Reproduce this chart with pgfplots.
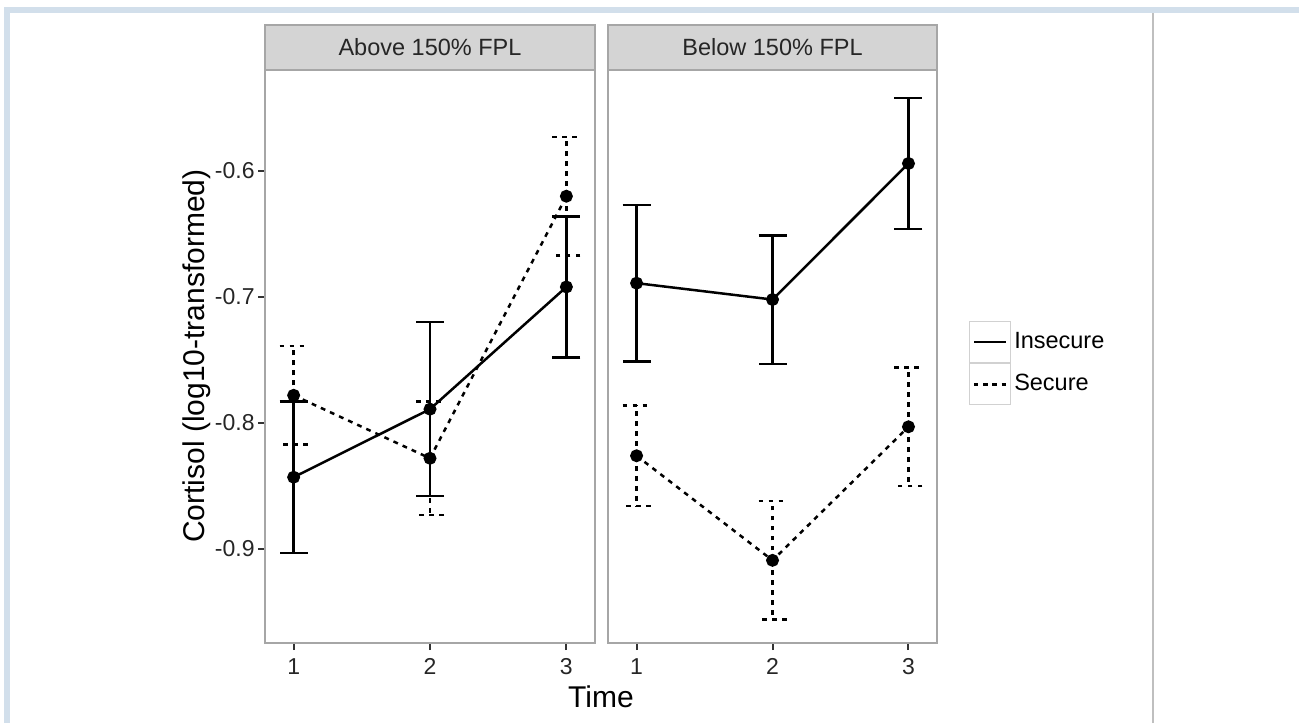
\documentclass[border=0pt]{standalone}
\usepackage{fontspec}
\setmainfont{Liberation Sans}
\usepackage{pgfplots}
\pgfplotsset{compat=1.18}
\usepackage{pgfplotstable}

\definecolor{frameblue}{HTML}{D2DFEB}
\definecolor{stripfill}{HTML}{D4D4D4}
\definecolor{stripborder}{HTML}{A6A6A6}

% Above 150% FPL
\pgfplotstableread{
x y e
1 -0.843 0.060
2 -0.789 0.069
3 -0.692 0.056
}\aboveInsecure
\pgfplotstableread{
x y e
1 -0.778 0.039
2 -0.828 0.045
3 -0.620 0.047
}\aboveSecure
% Below 150% FPL
\pgfplotstableread{
x y e
1 -0.689 0.062
2 -0.702 0.051
3 -0.594 0.052
}\belowInsecure
\pgfplotstableread{
x y e
1 -0.826 0.040
2 -0.909 0.047
3 -0.803 0.047
}\belowSecure

\pgfplotsset{
  panel/.style={
    scale only axis,
    height=286.5bp,
    xmin=0.79, xmax=3.21,
    ymin=-0.9746, ymax=-0.5198,
    xtick={1,2,3},
    tick pos=left,
    axis line style={stripborder, line width=1bp},
    tick align=outside,
    major tick length=3.5bp,
    every tick/.style={black!80, line width=1bp},
    ticklabel style={font=\fontsize{11.5bp}{13bp}\selectfont, text=black!85},
    xticklabel style={inner sep=1bp, yshift=-3bp},
    yticklabel style={inner sep=1.5bp},
    /pgf/number format/assume math mode=true,
    yticklabel style={/pgf/number format/fixed, /pgf/number format/precision=1, /pgf/number format/fixed zerofill},
  },
  insecure/.style={black, line width=1.25bp, solid, mark=*, mark size=2.6bp, mark options={solid},
    error bars/.cd, y dir=both, y explicit,
    error bar style={line width=1.25bp, solid},
    error mark options={rotate=90, black, line width=1.25bp, mark size=7bp, solid},
    /pgfplots/.cd},
  secure/.style={black, line width=1.25bp, dash pattern=on 2.4bp off 2.6bp, mark=*, mark size=2.6bp, mark options={solid},
    error bars/.cd, y dir=both, y explicit,
    error bar style={line width=1.25bp, dash pattern=on 2.4bp off 2.6bp},
    error mark options={rotate=90, black, line width=1.25bp, mark size=7bp, dash pattern=on 2.4bp off 2.6bp},
    /pgfplots/.cd},
}

\begin{document}
\begin{tikzpicture}[x=0.5bp,y=0.5bp]
\path[use as bounding box] (0,0) rectangle (1299,723);
% page frame of the screenshot
\fill[frameblue] (4,710) rectangle (1299,716);
\fill[frameblue] (4,0) rectangle (10,716);
\draw[black!25, line width=0.75bp] (1153,0) -- (1153,710);

% left panel
\begin{axis}[panel, at={(132.5bp,40bp)}, anchor=south west, width=165bp,
  ytick={-0.9,-0.8,-0.7,-0.6}]
\addplot+[insecure] table[x=x, y=y, y error=e] {\aboveInsecure};
\addplot+[secure] table[x=x, y=y, y error=e] {\aboveSecure};
\end{axis}

% right panel
\begin{axis}[panel, at={(304bp,40bp)}, anchor=south west, width=164.5bp,
  ytick=\empty,
  legend style={at={(1.0973,0.562)}, anchor=north west, draw=none, fill=none,
    inner sep=0pt, outer sep=0pt, row sep=0pt, column sep=0bp,
    font=\fontsize{11.75bp}{14bp}\selectfont,
    nodes={inner sep=1.5bp}},
  legend cell align=left,
  legend image code/.code={
    \draw[black!18, solid, line width=0.6bp, fill=white] (0bp,-10.25bp) rectangle (20.5bp,10.25bp);
    \draw[#1] (2.2bp,0bp) -- (18.3bp,0bp);
  }]
\addplot+[forget plot, insecure] table[x=x, y=y, y error=e] {\belowInsecure};
\addplot+[forget plot, secure] table[x=x, y=y, y error=e] {\belowSecure};
\addlegendimage{black, line width=1.25bp, solid}
\addlegendentry{Insecure}
\addlegendimage{black, line width=1.25bp, dash pattern=on 2.2bp off 2.4bp}
\addlegendentry{Secure}
\end{axis}

% facet strips
\draw[stripborder, line width=1bp, fill=stripfill] (265,653) rectangle (595,698);
\node[font=\fontsize{11.75bp}{14bp}\selectfont, text=black!85] at (430,675.5) {Above 150\% FPL};
\draw[stripborder, line width=1bp, fill=stripfill] (608,653) rectangle (937,698);
\node[font=\fontsize{11.75bp}{14bp}\selectfont, text=black!85] at (772.5,675.5) {Below 150\% FPL};

% axis titles
\node[rotate=90, font=\fontsize{15bp}{18bp}\selectfont] at (197,367) {Cortisol (log10-transformed)};
\node[font=\fontsize{15bp}{18bp}\selectfont] at (601,26) {Time};
\end{tikzpicture}
\end{document}
